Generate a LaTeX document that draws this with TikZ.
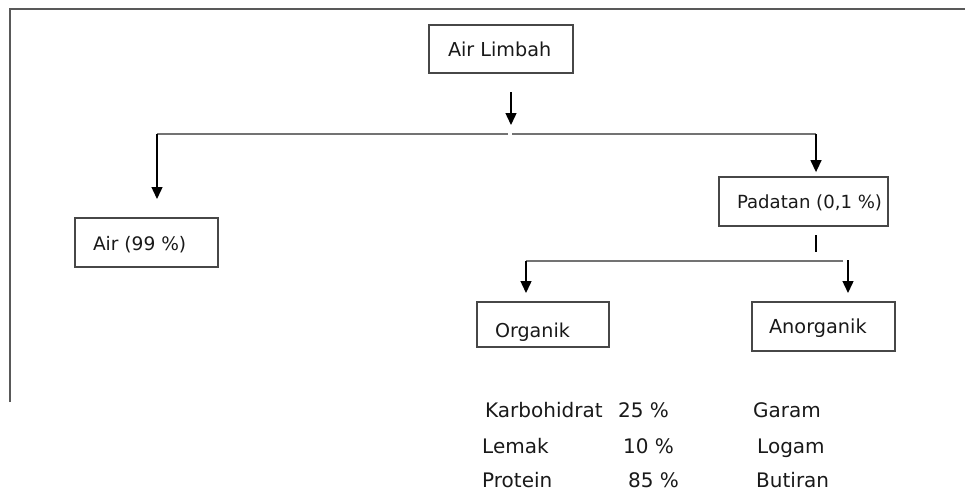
\documentclass[tikz,border=0pt]{standalone}
\usepackage{fontspec}
\setmainfont{DejaVu Sans}
\usetikzlibrary{arrows.meta}
\newcommand\btext[3]{\makebox[0pt][l]{\hspace*{#1pt}\raisebox{#2pt}{#3}}}
\begin{document}
\begin{tikzpicture}[x=1pt,y=-1pt,
  box/.style={draw=black!72,line width=1.8pt,inner sep=0pt,text height=0pt,text depth=0pt,text=black!90},
  conn/.style={draw=black!55,line width=2pt},
  arr/.style={black,line width=1.4pt,-{Triangle[length=12pt,width=11pt]}},
  txt/.style={inner sep=0pt,anchor=base west,font=\fontsize{20}{24}\selectfont,text=black!90}]
\useasboundingbox (0,0) rectangle (965,501);
% frame
\draw[draw=black!65,line width=2pt] (10,402) -- (10,9) -- (965,9);
% boxes
\node[box,minimum width=144pt,minimum height=48pt,font=\fontsize{19.2}{22}\selectfont] (limbah) at (501,49) {\btext{-53}{-7}{Air Limbah}};
\node[box,minimum width=143pt,minimum height=49pt,font=\fontsize{18.6}{22}\selectfont] (air) at (146.5,242.5) {\btext{-53.5}{-7.5}{Air (99 \%)}};
\node[box,minimum width=169pt,minimum height=49pt,font=\fontsize{18.1}{22}\selectfont] (padatan) at (803.5,201.5) {\btext{-66.5}{-6.5}{Padatan (0,1 \%)}};
\node[box,minimum width=132pt,minimum height=45pt,font=\fontsize{19.1}{22}\selectfont] (organik) at (543,324.5) {\btext{-48}{-12.5}{Organik}};
\node[box,minimum width=143pt,minimum height=49pt,font=\fontsize{19.3}{22}\selectfont] (anorganik) at (823.5,326.5) {\btext{-54.5}{-6.5}{Anorganik}};
% top split
\coordinate (a1) at (511,92);
\coordinate (a2) at (511,125);
\draw[arr] (a1) -- (a2);
\coordinate (s) at (510,134);
\coordinate (sl) at (157,134);
\coordinate (sr) at (816,134);
\draw[conn] ([xshift=-2pt]s) -- (sl);
\draw[conn] ([xshift=2pt]s) -- (sr);
\draw[arr] (sl) -- (157,199) coordinate (airtip);
\draw[arr] (sr) -- ([yshift=4pt]padatan.north -| sr);
% second split
\coordinate (t1) at (816,235);
\coordinate (t2) at (816,252);
\draw[black,line width=1.2pt] (t1) -- (t2);
\coordinate (ul) at (526,261);
\coordinate (ur) at (843,261);
\draw[conn] (ur) -- (ul);
\draw[arr] (ul) -- (526,293) coordinate (orgtip);
\draw[arr] (848,260) -- (848,293) coordinate (anotip);
% texts
\node[txt] (k1) at (485,417) {Karbohidrat};
\node[txt] (k2) at (618,417) {25 \%};
\node[txt] (k3) at (753,417) {Garam};
\node[txt] (l1) at (482,453) {Lemak};
\node[txt] (l2) at (623,453) {10 \%};
\node[txt] (l3) at (757,453) {Logam};
\node[txt] (p1) at (482,487) {Protein};
\node[txt] (p2) at (628,487) {85 \%};
\node[txt] (p3) at (756,487) {Butiran};
\end{tikzpicture}
\end{document}
